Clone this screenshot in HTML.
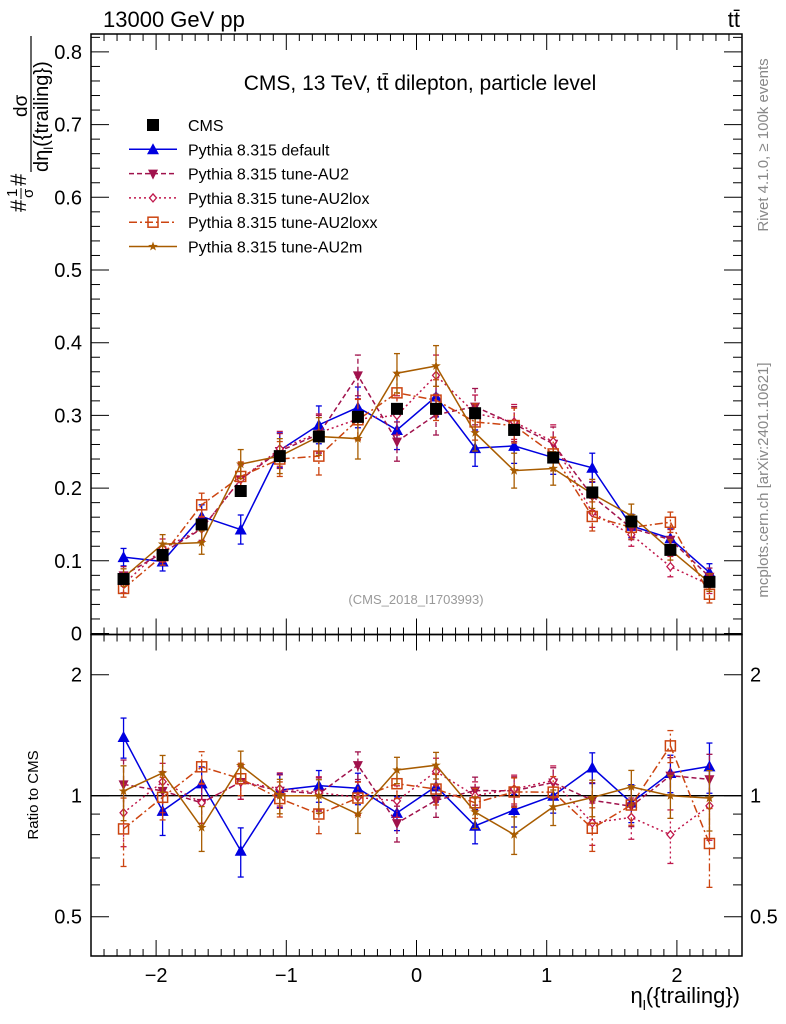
<!DOCTYPE html>
<html><head><meta charset="utf-8"><style>
html,body{margin:0;padding:0;background:#fff;}
svg{display:block;font-family:"Liberation Sans",sans-serif;}
</style></head><body>
<svg id="chart" width="786" height="1024" viewBox="0 0 786 1024" xmlns="http://www.w3.org/2000/svg">
<text x="103" y="27" font-size="22">13000 GeV pp</text>
<text x="740" y="27" font-size="22" text-anchor="end">tt̄</text>
<text x="420" y="90" font-size="21" text-anchor="middle">CMS, 13 TeV, tt̄ dilepton, particle level</text>
<text x="416" y="604" font-size="13" fill="#999" text-anchor="middle">(CMS_2018_I1703993)</text>
<text transform="translate(768,145) rotate(-90)" font-size="15" fill="#888" text-anchor="middle">Rivet 4.1.0, ≥ 100k events</text>
<text transform="translate(768,480) rotate(-90)" font-size="15" fill="#888" text-anchor="middle">mcplots.cern.ch [arXiv:2401.10621]</text>
<g transform="translate(0,212) rotate(-90)" font-size="22">
<text x="0" y="26">#</text>
<text x="15" y="17" font-size="15">1</text><line x1="13" y1="21" x2="24" y2="21" stroke="#000" stroke-width="1"/><text x="14" y="33" font-size="15">σ</text>
<text x="26" y="26">#</text>
<text x="95" y="27" font-size="19">dσ</text>
<line x1="40" y1="31" x2="176" y2="31" stroke="#000" stroke-width="1.2"/>
<text x="40" y="48" font-size="20">dη<tspan font-size="13" dy="5">l</tspan><tspan dy="-5">({trailing})</tspan></text>
</g>
<text transform="translate(38,795) rotate(-90)" font-size="15" text-anchor="middle">Ratio to CMS</text>
<text x="740" y="1003" font-size="22" text-anchor="end">η<tspan font-size="14" dy="7">l</tspan><tspan dy="-7">({trailing})</tspan></text>
<g id="g"></g>
</svg>
<script>
const bins = [-2.25,-1.95,-1.65,-1.35,-1.05,-0.75,-0.45,-0.15,0.15,0.45,0.75,1.05,1.35,1.65,1.95,2.25];
const cmsVals = [0.075,0.108,0.150,0.196,0.244,0.271,0.298,0.309,0.309,0.303,0.280,0.242,0.194,0.154,0.115,0.071];
const defaultVals = [0.105,0.099,0.161,0.143,0.252,0.287,0.311,0.280,0.326,0.255,0.258,0.242,0.228,0.148,0.131,0.084];
const au2Vals = [0.080,0.111,0.144,0.212,0.251,0.274,0.355,0.264,0.301,0.312,0.288,0.261,0.189,0.145,0.129,0.078];
const au2loxVals = [0.068,0.117,0.144,0.212,0.254,0.276,0.295,0.300,0.355,0.303,0.291,0.264,0.166,0.136,0.092,0.067];
const au2loxxVals = [0.062,0.107,0.177,0.216,0.240,0.244,0.294,0.331,0.321,0.291,0.286,0.247,0.161,0.146,0.153,0.054];
const au2mVals = [0.077,0.123,0.125,0.233,0.244,0.271,0.268,0.358,0.368,0.276,0.224,0.227,0.192,0.162,0.115,0.070];
const mcErr = [0.012,0.013,0.016,0.020,0.024,0.026,0.028,0.027,0.028,0.025,0.024,0.023,0.020,0.016,0.014,0.012];
const cmsErr = [0.003,0.004,0.004,0.005,0.005,0.005,0.005,0.005,0.005,0.005,0.005,0.005,0.005,0.004,0.004,0.003];
const mainTicks = [0,0.1,0.2,0.3,0.4,0.5,0.6,0.7,0.8];
const mainTickLabels = ["0","0.1","0.2","0.3","0.4","0.5","0.6","0.7","0.8"];
const xTicks = [-2,-1,0,1,2];
const xTickLabels = ["−2","−1","0","1","2"];
const ratioTicks = [0.5,1,2];
const ratioTickLabels = ["0.5","1","2"];

const NS="http://www.w3.org/2000/svg";
const g=document.getElementById('g');
const L=91,R=742,T=34,MB=634.5,RB=956;
const X=v=>L+(v+2.5)/5*(R-L);
const Y=v=>633.5-v*727;
const RY=v=>795.7-Math.log2(v)*121;
function mk(tag,attrs,parent){const e=document.createElementNS(NS,tag);for(const k in attrs)e.setAttribute(k,attrs[k]);(parent||g).appendChild(e);return e;}

const series=[
 {name:'default',vals:defaultVals,color:'#0000e0',dash:'',marker:'tri'},
 {name:'au2',vals:au2Vals,color:'#a0124c',dash:'5,3',marker:'itri'},
 {name:'au2lox',vals:au2loxVals,color:'#c0184c',dash:'2,3',marker:'diamond'},
 {name:'au2loxx',vals:au2loxxVals,color:'#cc4410',dash:'8,3,2,3',marker:'square'},
 {name:'au2m',vals:au2mVals,color:'#a85c00',dash:'',marker:'star'}
];
function marker(type,x,y,c,parent){
 let e;
 if(type==='tri') e=mk('polygon',{points:`${x},${y-6} ${x-6},${y+5} ${x+6},${y+5}`,fill:c},parent);
 else if(type==='itri') e=mk('polygon',{points:`${x},${y+6} ${x-5},${y-4} ${x+5},${y-4}`,fill:c},parent);
 else if(type==='diamond') e=mk('polygon',{points:`${x},${y-4} ${x-3.5},${y} ${x},${y+4} ${x+3.5},${y}`,fill:'#fff',stroke:c,'stroke-width':1.3},parent);
 else if(type==='square') e=mk('rect',{x:x-5,y:y-5,width:10,height:10,fill:'none',stroke:c,'stroke-width':1.5},parent);
 else if(type==='star'){let p=[];for(let i=0;i<10;i++){const r=i%2?2:5,a=-Math.PI/2+i*Math.PI/5;p.push((x+r*Math.cos(a)).toFixed(1)+','+(y+r*Math.sin(a)).toFixed(1));}e=mk('polygon',{points:p.join(' '),fill:c},parent);}
 else e=mk('rect',{x:x-6,y:y-6,width:12,height:12,fill:c},parent);
 return e;
}
const defs=mk('defs',{});
const c1=mk('clipPath',{id:'cm'},defs);mk('rect',{x:L,y:T,width:R-L,height:MB-T},c1);
const c2=mk('clipPath',{id:'cr'},defs);mk('rect',{x:L,y:MB,width:R-L,height:RB-MB},c2);
const one=mk('line',{x1:L,x2:R,y1:RY(1),y2:RY(1),stroke:'#000','stroke-width':1.3});



series.forEach(s=>{
 const gm=mk('g',{'clip-path':'url(#cm)'});
 
 
 const gr=mk('g',{'clip-path':'url(#cr)'});
 
 
 const ptsM=bins.map((b,i)=>X(b)+','+Y(s.vals[i])).join(' ');
 const ptsR=bins.map((b,i)=>X(b)+','+RY(s.vals[i]/cmsVals[i])).join(' ');
 mk('polyline',{points:ptsM,fill:'none',stroke:s.color,'stroke-width':1.5,'stroke-dasharray':s.dash},gm);
 mk('polyline',{points:ptsR,fill:'none',stroke:s.color,'stroke-width':1.5,'stroke-dasharray':s.dash},gr);
 bins.forEach((b,i)=>{
  const x=X(b),v=s.vals[i],e=mcErr[i],r=v/cmsVals[i],re=e/cmsVals[i];
  mk('line',{x1:x,x2:x,y1:Y(v-e),y2:Y(v+e),stroke:s.color,'stroke-width':1.3,'stroke-dasharray':s.dash},gm);
  mk('line',{x1:x-3,x2:x+3,y1:Y(v-e),y2:Y(v-e),stroke:s.color,'stroke-width':1.3},gm);
  mk('line',{x1:x-3,x2:x+3,y1:Y(v+e),y2:Y(v+e),stroke:s.color,'stroke-width':1.3},gm);
  const m=marker(s.marker,x,Y(v),s.color,gm);
  
  
  mk('line',{x1:x,x2:x,y1:RY(Math.max(r-re,0.3)),y2:RY(r+re),stroke:s.color,'stroke-width':1.3,'stroke-dasharray':s.dash},gr);
  mk('line',{x1:x-3,x2:x+3,y1:RY(Math.max(r-re,0.3)),y2:RY(Math.max(r-re,0.3)),stroke:s.color,'stroke-width':1.3},gr);
  mk('line',{x1:x-3,x2:x+3,y1:RY(r+re),y2:RY(r+re),stroke:s.color,'stroke-width':1.3},gr);
  const m2=marker(s.marker,x,RY(r),s.color,gr);
  
  
 });
});
const gc=mk('g',{});


bins.forEach((b,i)=>{
 const x=X(b);
 mk('line',{x1:x,x2:x,y1:Y(cmsVals[i]-cmsErr[i]),y2:Y(cmsVals[i]+cmsErr[i]),stroke:'#000','stroke-width':1.3},gc);
 const m=marker('sq',x,Y(cmsVals[i]),'#000',gc);
 
 
});

const f1=mk('rect',{x:L,y:T,width:R-L,height:MB-T,fill:'none',stroke:'#000','stroke-width':1.5});


const f2=mk('rect',{x:L,y:MB,width:R-L,height:RB-MB,fill:'none',stroke:'#000','stroke-width':1.5});



for(let k=-25;k<=25;k++){
 const v=k/10,x=X(v),maj=(k%10===0),len=maj?16:7;
 [T,MB].forEach(y0=>mk('line',{x1:x,x2:x,y1:y0,y2:y0+len,stroke:'#000','stroke-width':1}));
 [MB,RB].forEach(y0=>mk('line',{x1:x,x2:x,y1:y0,y2:y0-len,stroke:'#000','stroke-width':1}));
}
xTicks.forEach((v,i)=>{
 const t=mk('text',{x:X(v),y:982,'font-size':20,'text-anchor':'middle'});t.textContent=xTickLabels[i];
 
 
});
for(let k=0;k<=41;k++){
 const v=k/50,y=Y(v);if(y<T)continue;const maj=(k%5===0),len=maj?18:9;
 mk('line',{x1:L,x2:L+len,y1:y,y2:y,stroke:'#000','stroke-width':1});
 mk('line',{x1:R,x2:R-len,y1:y,y2:y,stroke:'#000','stroke-width':1});
}
mainTicks.forEach((v,i)=>{
 const t=mk('text',{x:82,y:Y(v)+7,'font-size':20,'text-anchor':'end'});t.textContent=mainTickLabels[i];
 
 
});
[0.5,0.6,0.7,0.8,0.9,1,2].forEach(v=>{
 const y=RY(v),maj=ratioTicks.includes(v),len=maj?18:9;
 mk('line',{x1:L,x2:L+len,y1:y,y2:y,stroke:'#000','stroke-width':1});
 mk('line',{x1:R,x2:R-len,y1:y,y2:y,stroke:'#000','stroke-width':1});
});
ratioTicks.forEach((v,i)=>{
 const t=mk('text',{x:82,y:RY(v)+7,'font-size':20,'text-anchor':'end'});t.textContent=ratioTickLabels[i];
 
 
 const t2=mk('text',{x:750,y:RY(v)+7,'font-size':20});t2.textContent=ratioTickLabels[i];
 
 
});
const legNames=['CMS','Pythia 8.315 default','Pythia 8.315 tune-AU2','Pythia 8.315 tune-AU2lox','Pythia 8.315 tune-AU2loxx','Pythia 8.315 tune-AU2m'];
const lg=mk('g',{});


legNames.forEach((n,i)=>{
 const y=125+i*24.3;
 const eg=mk('g',{},lg);
 
 
 if(i===0){marker('sq',153,y,'#000',eg);}
 else{const s=series[i-1];mk('line',{x1:129,x2:177,y1:y,y2:y,stroke:s.color,'stroke-width':1.5,'stroke-dasharray':s.dash},eg);marker(s.marker,153,y,s.color,eg);}
 const t=mk('text',{x:188,y:y+6,'font-size':16},eg);t.textContent=n;
});
</script>
</body></html>
